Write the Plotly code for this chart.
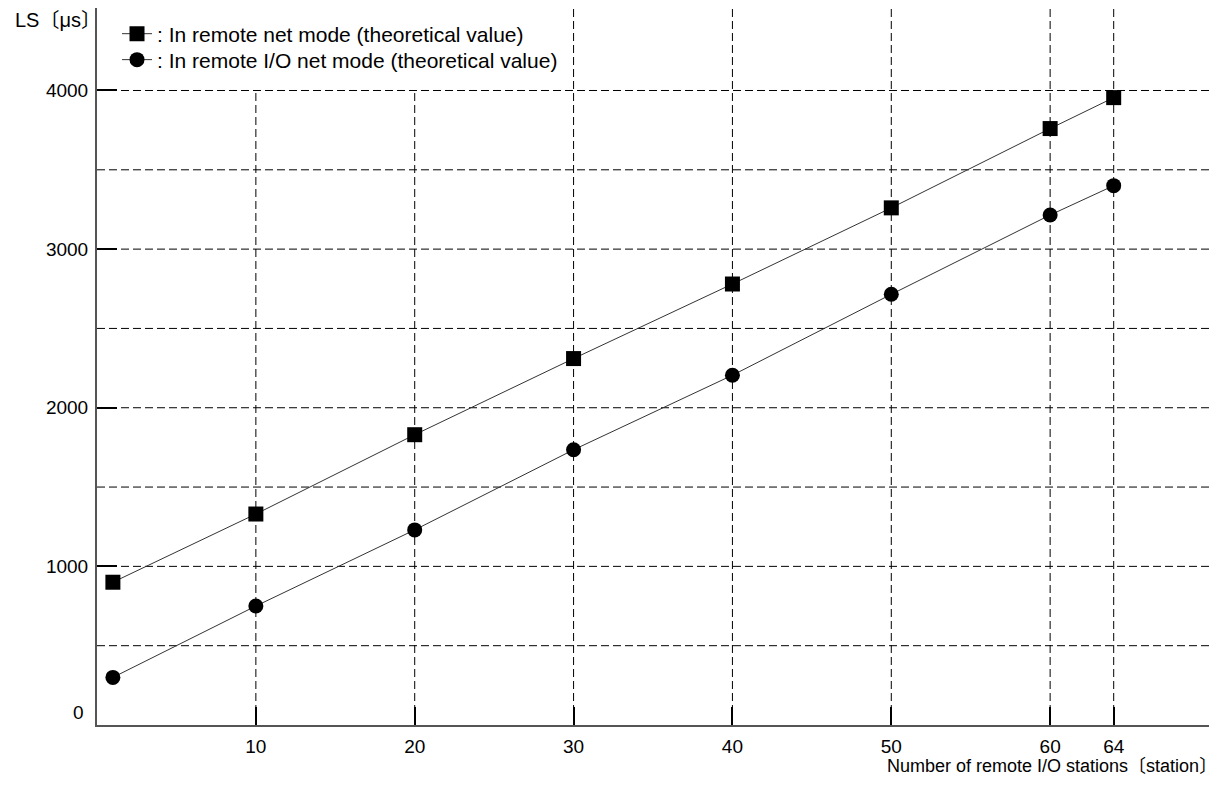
import plotly.graph_objects as go

# number of remote I/O stations
stations = [1, 10, 20, 30, 40, 50, 60, 64]
# LS in microseconds (theoretical values)
ls_remote_net = [900, 1330, 1830, 2310, 2780, 3260, 3760, 3955]
ls_remote_io_net = [300, 750, 1230, 1735, 2205, 2715, 3215, 3400]

x_ticks = [10, 20, 30, 40, 50, 60, 64]
y_ticks = [1000, 2000, 3000, 4000]
y_grid = [500, 1000, 1500, 2000, 2500, 3000, 3500, 4000]

X_MAX = 70
Y_MAX = 4520
FONT = 'Liberation Sans, Arial, Noto Sans CJK JP, sans-serif'
DASH = '8px,4px'

fig = go.Figure()

# grid lines (the two left-most verticals stop under the legend)
shapes = []
for yv in y_grid:
    shapes.append(dict(type='line', xref='x', yref='y', x0=0, x1=X_MAX, y0=yv, y1=yv,
                       line=dict(color='black', width=1, dash=DASH), layer='below'))
for xv in x_ticks:
    top = 4000 if xv <= 20 else Y_MAX
    shapes.append(dict(type='line', xref='x', yref='y', x0=xv, x1=xv, y0=0, y1=top,
                       line=dict(color='black', width=1, dash=DASH), layer='below'))

fig.add_trace(go.Scatter(
    x=stations, y=ls_remote_net, mode='lines+markers',
    name=': In remote net mode (theoretical value)', legend='legend',
    line=dict(color='#333333', width=1),
    marker=dict(symbol='square', size=15, color='black'),
))
fig.add_trace(go.Scatter(
    x=stations, y=ls_remote_io_net, mode='lines+markers',
    name=': In remote I/O net mode (theoretical value)', legend='legend2',
    line=dict(color='#333333', width=1),
    marker=dict(symbol='circle', size=15, color='black'),
))

fig.update_xaxes(range=[0, X_MAX], tickvals=x_ticks, ticktext=[str(v) for v in x_ticks],
                 ticks='inside', ticklen=18, tickwidth=2, tickcolor='black',
                 showline=True, linecolor='#555555', linewidth=2,
                 showgrid=False, zeroline=False, ticklabelstandoff=3,
                 tickfont=dict(family=FONT, size=19, color='black'))
fig.update_yaxes(range=[0, Y_MAX], tickvals=y_ticks, ticktext=[str(v) for v in y_ticks],
                 ticks='inside', ticklen=20, tickwidth=2, tickcolor='black',
                 showline=True, linecolor='#555555', linewidth=2,
                 showgrid=False, zeroline=False, ticklabelstandoff=3,
                 tickfont=dict(family=FONT, size=19, color='black'))

annotations = [
    dict(text='0', xref='paper', yref='y', x=0, y=0, xanchor='right', yanchor='middle',
         xshift=-11, yshift=13, showarrow=False, font=dict(family=FONT, size=19, color='black')),
    dict(text='LS〔μs〕', xref='paper', yref='paper', x=0, y=1, xanchor='right', yanchor='middle',
         xshift=6, yshift=-12, showarrow=False, font=dict(family=FONT, size=20, color='black')),
    dict(text='Number of remote I/O stations〔station〕', xref='paper', yref='paper', x=1, y=0,
         xanchor='right', yanchor='middle', xshift=10, yshift=-41, showarrow=False,
         font=dict(family=FONT, size=18, color='black')),
]

legend_style = dict(xanchor='left', yanchor='middle', bgcolor='rgba(0,0,0,0)', borderwidth=0,
                    font=dict(family=FONT, size=21, color='black'))

# the page body adds an 8px offset, so the figure is made 8px smaller
fig.update_layout(
    width=1216, height=777,
    margin=dict(l=89, r=15, t=0, b=60),
    paper_bgcolor='white', plot_bgcolor='white',
    shapes=shapes, annotations=annotations,
    showlegend=True,
    legend=dict(x=0.018, y=0.9637, **legend_style),
    legend2=dict(x=0.018, y=0.9275, **legend_style),
)

fig.write_html('out.html')
